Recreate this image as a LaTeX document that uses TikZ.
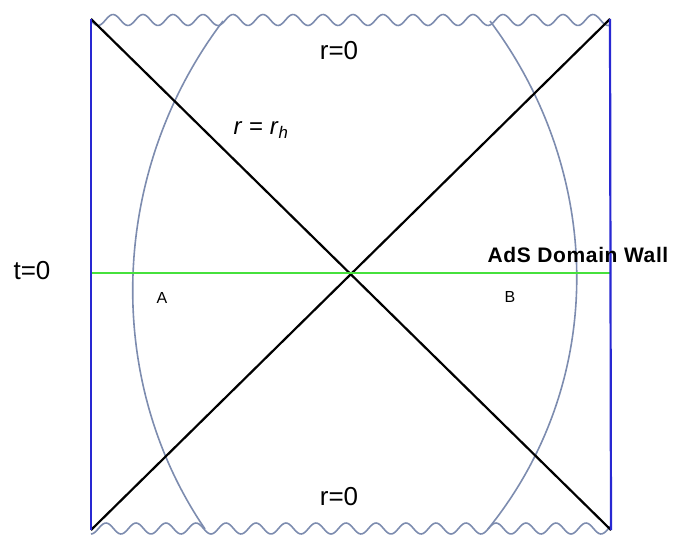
\documentclass[tikz,border=0pt]{standalone}
\usepackage{fontspec}
\setmainfont{Liberation Sans}
\usepackage{xcolor}

\definecolor{wallblue}{RGB}{40,40,210}
\definecolor{slicegreen}{RGB}{70,225,60}
\definecolor{arcgray}{RGB}{125,140,175}

\tikzset{
    boundary/.style={wallblue, line width=2.2pt},
    horizon/.style={black, line width=2.2pt},
    cutoff/.style={arcgray, line width=1.6pt},
    bigtext/.style={font=\fontsize{26}{30}\selectfont},
    smalltext/.style={font=\fontsize{16}{18}\selectfont}
}

\begin{document}
\begin{tikzpicture}[x=1pt, y=-1pt]
    \useasboundingbox (0,0) rectangle (689,538);

    % Corners of the diagram
    \coordinate (tl) at (91,19);
    \coordinate (tr) at (610,19);
    \coordinate (bl) at (91,530);
    \coordinate (br) at (611,530);
    \coordinate (wl) at (91,273);
    \coordinate (wr) at (611,273);

    % Singularities
    \draw[cutoff, smooth] plot[domain=91:610, samples=300] (\x, {20-5.5*cos((\x-113)/30*360)});
    \draw[cutoff, smooth] plot[domain=91:611, samples=300] (\x, {528.5+5.5*cos((\x-91)/30*360)});

    % Cut-off arcs
    \coordinate (la) at (223,21);
    \coordinate (lb) at (205,529);
    \coordinate (ra) at (490,21);
    \coordinate (rb) at (488,529);
    \draw[cutoff] (la) .. controls (110,170) and (102,378) .. (lb);
    \draw[cutoff] (ra) .. controls (602,170) and (610,378) .. (rb);

    % Horizons
    \draw[horizon] (tl) -- (br);
    \draw[horizon] (bl) -- (tr);

    % t=0 slice
    \draw[slicegreen, line width=2.6pt] (wl) -- (wr);

    % Boundaries
    \draw[boundary] (tl) -- (bl);
    \draw[boundary] (tr) -- (br);

    % Labels
    \node[bigtext] (rtop) at (339,51) {r=0};
    \node[bigtext] (rbot) at (339,497) {r=0};
    \node[bigtext] (tzero) at (32,271) {t=0};
    \node[font=\fontsize{24}{28}\selectfont] (rh) at (261,130) {\textit{r} = \textit{r}\textsubscript{\textit{h}}};
    \node[smalltext] (labA) at (162,298) {A};
    \node[smalltext] (labB) at (510,297) {B};
    \node[font=\bfseries\fontsize{21}{24}\selectfont, inner sep=0pt] (wall) at (578,255) {\addfontfeature{LetterSpace=3}AdS Domain Wall};

\end{tikzpicture}
\end{document}
